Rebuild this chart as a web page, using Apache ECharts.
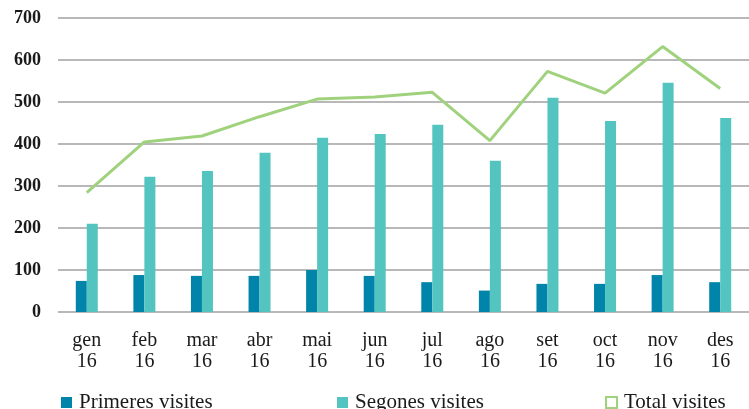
<!DOCTYPE html>
<html>
<head>
<meta charset="utf-8">
<script src="https://cdn.jsdelivr.net/npm/echarts@6/dist/echarts.min.js"></script>
<style>
  html, body { margin: 0; padding: 0; background: #fff; }
  #chart { width: 749px; height: 409px; }
</style>
</head>
<body>
<div id="chart"></div>
<script>
// months of 2016 (Catalan)
const months = ['gen\n16', 'feb\n16', 'mar\n16', 'abr\n16', 'mai\n16', 'jun\n16',
  'jul\n16', 'ago\n16', 'set\n16', 'oct\n16', 'nov\n16', 'des\n16'];
const primeres = [74, 88, 86, 86, 100, 86, 71, 51, 67, 67, 88, 71];
const segones = [210, 322, 336, 379, 415, 424, 446, 360, 510, 455, 546, 462];
const total = [284, 405, 419, 465, 507, 512, 523, 408, 573, 521, 632, 532];
const yTicks = [0, 100, 200, 300, 400, 500, 600, 700];

const serif = '"Liberation Serif", "DejaVu Serif", serif';
const gridColor = '#a0a0a0';

let chart = echarts.init(document.getElementById('chart'));

const legendBase = {
  orient: 'horizontal',
  top: 387,
  itemWidth: 11,
  itemHeight: 11,
  textStyle: {fontFamily: serif, fontSize: 21, color: '#1a1a1a', padding: [0, 0, 0, 2]}
};

let option = {
  animation: false,
  grid: {left: 58, top: 18, width: 695, height: 294},
  legend: [
    Object.assign({}, legendBase, {left: 56, data: [{name: 'Primeres visites', icon: 'rect'}]}),
    Object.assign({}, legendBase, {left: 332, data: [{name: 'Segones visites', icon: 'rect'}]}),
    Object.assign({}, legendBase, {
      left: 600,
      data: [{
        name: 'Total visites', icon: 'rect',
        itemStyle: {color: '#fff', borderColor: '#a0d27e', borderWidth: 2}
      }]
    })
  ],
  xAxis: {
    type: 'category',
    data: months,
    axisLine: {show: false},
    axisTick: {show: false},
    axisLabel: {
      fontFamily: serif, fontSize: 20, color: '#1a1a1a',
      lineHeight: 21, margin: 18, interval: 0
    }
  },
  yAxis: {
    type: 'value',
    min: yTicks[0],
    max: yTicks[yTicks.length - 1],
    interval: 100,
    axisLine: {show: false},
    axisTick: {show: false},
    axisLabel: {
      fontFamily: serif, fontSize: 18, fontWeight: 'bold', color: '#1a1a1a', margin: 17
    },
    splitLine: {lineStyle: {color: gridColor, width: 1.5}}
  },
  series: [
    {
      name: 'Primeres visites',
      type: 'bar',
      data: primeres,
      barWidth: 11,
      barGap: '0%',
      itemStyle: {color: '#0084a9'}
    },
    {
      name: 'Segones visites',
      type: 'bar',
      data: segones,
      barWidth: 11,
      barGap: '0%',
      itemStyle: {color: '#53c4c0'}
    },
    {
      name: 'Total visites',
      type: 'line',
      data: total,
      symbol: 'none',
      lineStyle: {color: '#a0d27e', width: 3},
      itemStyle: {color: '#a0d27e'}
    }
  ]
};

chart.setOption(option);
</script>
</body>
</html>
